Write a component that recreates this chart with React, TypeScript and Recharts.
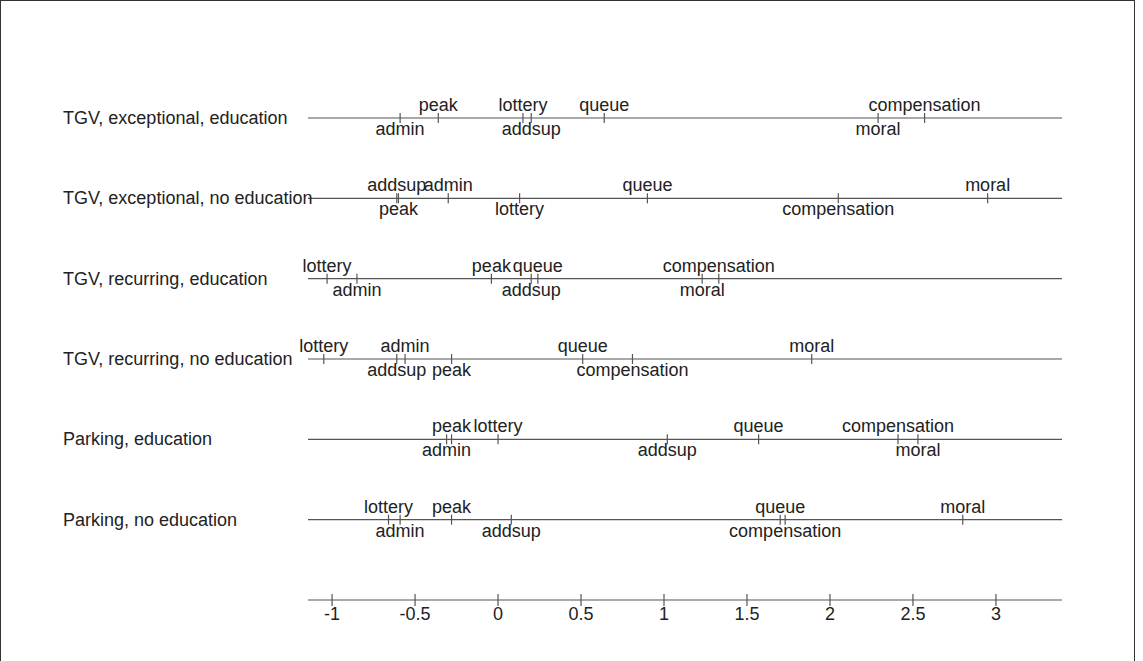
import { ScatterChart, Scatter, XAxis, YAxis, ReferenceLine } from 'recharts';

// measures, in the order used by every row below
const measures = ['admin', 'addsup', 'compensation', 'lottery', 'moral', 'peak', 'queue'];

const rowNames = [
  'TGV, exceptional, education',
  'TGV, exceptional, no education',
  'TGV, recurring, education',
  'TGV, recurring, no education',
  'Parking, education',
  'Parking, no education',
];

// estimated effect per measure, one array per row
const tgvExcEdu = [-0.59, 0.2, 2.57, 0.15, 2.29, -0.36, 0.64];
const tgvExcNoEdu = [-0.3, -0.61, 2.05, 0.13, 2.95, -0.6, 0.9];
const tgvRecEdu = [-0.85, 0.2, 1.33, -1.03, 1.23, -0.04, 0.24];
const tgvRecNoEdu = [-0.56, -0.61, 0.81, -1.05, 1.89, -0.28, 0.51];
const parkEdu = [-0.31, 1.02, 2.41, 0.0, 2.53, -0.28, 1.57];
const parkNoEdu = [-0.59, 0.08, 1.73, -0.66, 2.8, -0.28, 1.7];

// 1 = label printed above the line, 0 = below
const tgvExcEduUp = [0, 0, 1, 1, 0, 1, 1];
const tgvExcNoEduUp = [1, 1, 0, 0, 1, 0, 1];
const tgvRecEduUp = [0, 0, 1, 1, 0, 1, 1];
const tgvRecNoEduUp = [1, 0, 0, 1, 1, 0, 1];
const parkEduUp = [0, 0, 1, 1, 0, 1, 1];
const parkNoEduUp = [0, 0, 0, 1, 1, 1, 1];

const rowValues = [tgvExcEdu, tgvExcNoEdu, tgvRecEdu, tgvRecNoEdu, parkEdu, parkNoEdu];
const rowUp = [tgvExcEduUp, tgvExcNoEduUp, tgvRecEduUp, tgvRecNoEduUp, parkEduUp, parkNoEduUp];

const xTicks = [-1, -0.5, 0, 0.5, 1, 1.5, 2, 2.5, 3];

const FONT = '"Liberation Sans", Arial, Helvetica, sans-serif';
const FS = 18;
const INK = '#222';
const LINE = '#555';

const rowY = (i: number) => rowNames.length - i;

const points = rowValues.flatMap((vals, r) =>
  vals.map((v, k) => ({ x: v, y: rowY(r), name: measures[k], up: rowUp[r][k] === 1 }))
);

const MarkShape = (props: any) => {
  const { cx, cy, payload } = props;
  return (
    <g>
      <line x1={cx} x2={cx} y1={cy - 5} y2={cy + 5} stroke={LINE} strokeWidth={1.2} />
      <text
        x={cx}
        y={payload.up ? cy - 7 : cy + 17}
        textAnchor="middle"
        fontSize={FS}
        fontFamily={FONT}
        fill={INK}
      >
        {payload.name}
      </text>
    </g>
  );
};

const RowLabel = (props: any) => {
  const { viewBox, text } = props;
  return (
    <text x={62} y={viewBox.y + 6} fontSize={FS} fontFamily={FONT} fill={INK}>
      {text}
    </text>
  );
};

const AxisTick = (props: any) => {
  const { x, y, payload } = props;
  return (
    <g>
      <line x1={x} x2={x} y1={y - 6} y2={y + 6} stroke={LINE} strokeWidth={1.2} />
      <text x={x} y={y + 20} textAnchor="middle" fontSize={FS} fontFamily={FONT} fill={INK}>
        {payload.value}
      </text>
    </g>
  );
};

export default function App() {
  return (
    <div
      style={{
        position: 'absolute',
        left: 0,
        top: 0,
        width: 1135,
        height: 661,
        boxSizing: 'border-box',
        borderLeft: '1px solid #333',
        borderTop: '1px solid #333',
        borderRight: '1px solid #333',
        background: '#fff',
        overflow: 'hidden',
      }}
    >
      <ScatterChart width={1143} height={661} margin={{ top: 117, right: 82, bottom: 32, left: 307 }}>
        <XAxis
          type="number"
          dataKey="x"
          domain={[-1.145, 3.398]}
          ticks={xTicks}
          tickLine={false}
          tickSize={0}
          tickMargin={0}
          height={30}
          axisLine={{ stroke: LINE, strokeWidth: 1.2 }}
          tick={<AxisTick />}
          interval={0}
        />
        <YAxis type="number" dataKey="y" domain={[0, rowNames.length]} hide width={0} />
        {rowNames.map((name, i) => (
          <ReferenceLine
            key={name}
            y={rowY(i)}
            stroke={LINE}
            strokeWidth={1.2}
            label={<RowLabel text={name} />}
          />
        ))}
        <Scatter data={points} shape={<MarkShape />} isAnimationActive={false} />
      </ScatterChart>
    </div>
  );
}
